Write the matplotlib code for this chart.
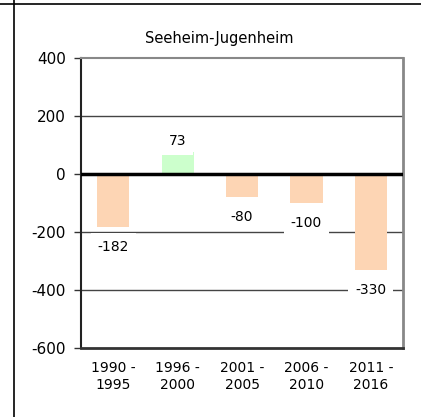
import matplotlib.pyplot as plt

# Bevölkerungssaldo je Zeitraum
zeitraeume = ['1990 -\n1995', '1996 -\n2000', '2001 -\n2005', '2006 -\n2010', '2011 -\n2016']
werte = [-182, 73, -80, -100, -330]
farben = ['#fdd5b4' if w < 0 else '#ccffcc' for w in werte]

plt.rcParams['font.family'] = 'DejaVu Sans'

fig = plt.figure(figsize=(4.21, 4.17), dpi=100)
ax = fig.add_axes([81 / 421, 1 - 348 / 417, 322 / 421, 290.5 / 417])

x = range(len(werte))
ax.bar(x, werte, width=0.5, color=farben, zorder=2)

ax.set_ylim(-600, 400)
ax.set_xlim(-0.5, len(werte) - 0.5)
ax.set_yticks([-600, -400, -200, 0, 200, 400])
ax.set_yticklabels(['-600', '-400', '-200', '0', '200', '400'], fontsize=11)
ax.set_xticks(list(x))
ax.set_xticklabels(zeitraeume, fontsize=10, linespacing=1.3)
ax.tick_params(axis='x', length=0, pad=9)
ax.tick_params(axis='y', length=5, width=1, color='#333333', pad=6)

# Gitterlinien
for g in [200, -200, -400]:
    ax.axhline(g, color='#444444', lw=1, zorder=1)
ax.axhline(0, color='black', lw=2.5, zorder=3)

ax.spines['left'].set_color('#222222')
ax.spines['left'].set_linewidth(1.5)
ax.spines['bottom'].set_color('#333333')
ax.spines['bottom'].set_linewidth(2)
ax.spines['right'].set_color('#888888')
ax.spines['right'].set_linewidth(2)
ax.spines['top'].set_color('#888888')
ax.spines['top'].set_linewidth(1.5)

# Wertbeschriftungen
for i, w in enumerate(werte):
    if w >= 0:
        off = 11
    else:
        off = -20
    ax.annotate(str(w), (i, w), xytext=(0, off), textcoords='offset pixels',
                ha='center', va='center', fontsize=10, zorder=4,
                bbox=dict(facecolor='white', edgecolor='none', pad=5))

fig.text(219 / 421, 1 - 38 / 417, 'Seeheim-Jugenheim', ha='center', va='center', fontsize=10.5)

# Rahmenlinien
fig.add_artist(plt.Line2D([14 / 421, 14 / 421], [0, 1], color='black', lw=1.2))
fig.add_artist(plt.Line2D([0, 1], [1 - 4 / 417, 1 - 4 / 417], color='black', lw=1.2))

fig.savefig('out.png', dpi=100)
